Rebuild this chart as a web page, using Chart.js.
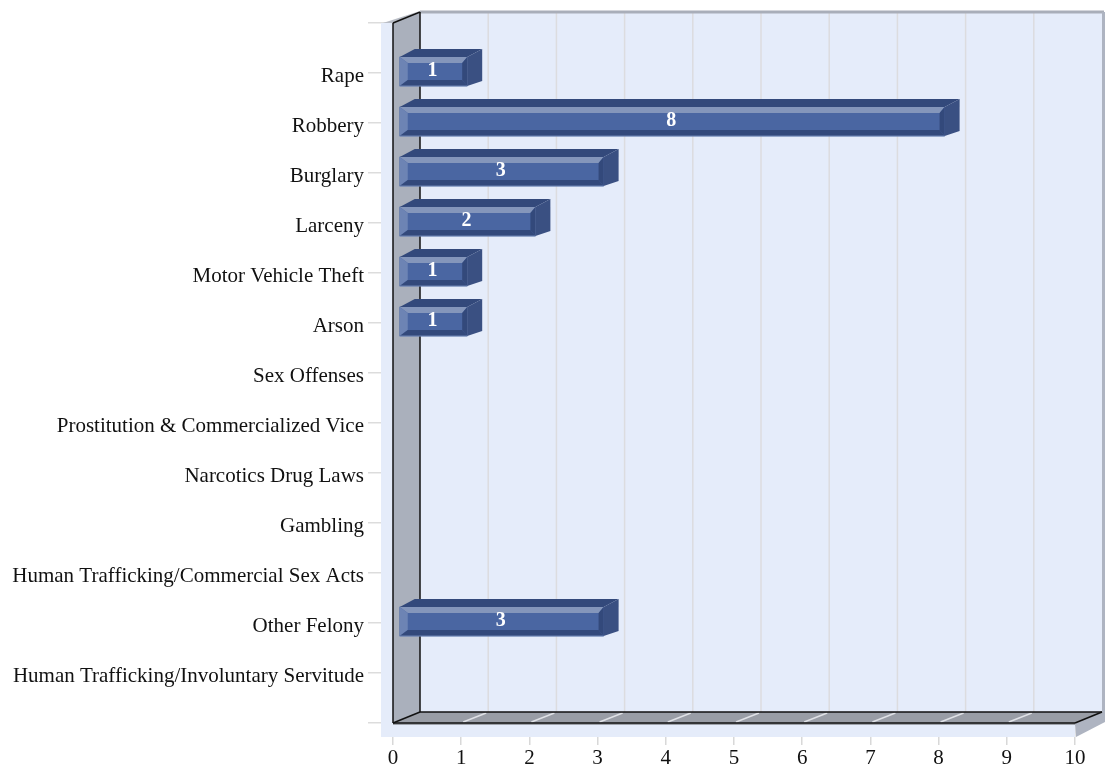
<!DOCTYPE html>
<html>
<head>
<meta charset="utf-8">
<title>Offenses</title>
<script src="https://cdn.jsdelivr.net/npm/chart.js@4"></script>
<style>
  html, body { margin: 0; padding: 0; background: #fff; }
  canvas { display: block; }
</style>
</head>
<body>
<canvas id="chart" width="1106" height="769"></canvas>
<script>
"use strict";
// blank first and last labels keep the half empty rows above and below the list
const CATEGORIES = ["", "Rape", "Robbery", "Burglary", "Larceny", "Motor Vehicle Theft", "Arson",
  "Sex Offenses", "Prostitution & Commercialized Vice", "Narcotics Drug Laws", "Gambling",
  "Human Trafficking/Commercial Sex Acts", "Other Felony",
  "Human Trafficking/Involuntary Servitude", ""];
const COUNTS = [null, 1, 8, 3, 2, 1, 1, 0, 0, 0, 0, 0, 3, 0, null];
const X_MAX = 10;

// depth of the box behind the front plane
const DEPTH_X = 27;
const DEPTH_Y = -11;
// how far the bars sit inside the box and how deep they are
const BAR_SHIFT_X = 6;
const BAR_SHIFT_Y = -1.5;
const BAR_DEPTH_X = 15;
const BAR_DEPTH_TOP = -8;
const BAR_DEPTH_BOTTOM = -5;
// bevel widths on the front face
const BEVEL_LEFT = 8;
const BEVEL_RIGHT = 5;
const BEVEL_TOP = 6;
const BEVEL_BOTTOM = 6;

function poly(ctx, points, fill, stroke, width) {
  ctx.beginPath();
  points.forEach((p, i) => i ? ctx.lineTo(p[0], p[1]) : ctx.moveTo(p[0], p[1]));
  ctx.closePath();
  if (fill) {
    ctx.fillStyle = fill;
    ctx.fill();
  }
  if (stroke) {
    ctx.strokeStyle = stroke;
    ctx.lineWidth = width || 1;
    ctx.stroke();
  }
}

function line(ctx, x1, y1, x2, y2, color, width) {
  ctx.beginPath();
  ctx.moveTo(x1, y1);
  ctx.lineTo(x2, y2);
  ctx.strokeStyle = color;
  ctx.lineWidth = width;
  ctx.stroke();
}

// the box: backing panel, back wall grid, left wall, floor, rims
const boxPlugin = {
  id: "box",
  beforeDatasetsDraw(chart) {
    const ctx = chart.ctx;
    const a = chart.chartArea;
    const xs = chart.scales.x;
    const bx = DEPTH_X, by = DEPTH_Y;
    ctx.save();
    ctx.fillStyle = "#e5ecfa";
    ctx.fillRect(a.left - 12, a.top, a.right - a.left + 12, a.bottom - a.top + 14);
    ctx.fillRect(a.left + bx, a.top + by, a.right - a.left, a.bottom - a.top);

    for (let v = 1; v < X_MAX; v++) {
      const x = xs.getPixelForValue(v) + bx;
      line(ctx, x, a.top + by, x, a.bottom + by, "#dcdcdf", 1.5);
    }

    // rims on top and to the right
    line(ctx, a.left + bx, a.top + by, a.right + bx + 2, a.top + by, "#a9aeb9", 3);
    line(ctx, a.right + bx + 1.5, a.top + by, a.right + bx + 1.5, a.bottom + by, "#aeb4c1", 3);
    poly(ctx, [[a.left - 10, a.top], [a.left, a.top], [a.left + bx, a.top + by - 1]], "#b9bdc6");
    poly(ctx, [[a.right, a.bottom], [a.right + bx, a.bottom + by], [a.right + bx + 3, a.bottom + by],
      [a.right + bx + 3, a.bottom + by + 10], [a.right + 1, a.bottom + 14]], "#aeb4c1");

    // left wall
    poly(ctx, [[a.left, a.top], [a.left + bx, a.top + by], [a.left + bx, a.bottom + by], [a.left, a.bottom]],
      "#aab0bc");
    // floor
    poly(ctx, [[a.left, a.bottom], [a.left + bx, a.bottom + by], [a.right + bx, a.bottom + by], [a.right, a.bottom]],
      "#999da6");
    for (let v = 1; v < X_MAX; v++) {
      const x = xs.getPixelForValue(v);
      line(ctx, x + 2, a.bottom - 1, x + bx - 2, a.bottom + by + 1, "#dfe1e6", 1.5);
    }
    line(ctx, a.left, a.bottom + 1, a.right, a.bottom + 1, "#9fa3ab", 2);

    // black edges
    line(ctx, a.left, a.top, a.left, a.bottom, "#111", 1.5);
    line(ctx, a.left, a.top, a.left + bx, a.top + by, "#111", 1.5);
    line(ctx, a.left + bx, a.top + by, a.left + bx, a.bottom + by, "#111", 1.5);
    line(ctx, a.left, a.bottom, a.left + bx, a.bottom + by, "#111", 1.5);
    line(ctx, a.left + bx, a.bottom + by, a.right + bx, a.bottom + by, "#111", 1.5);
    line(ctx, a.left, a.bottom, a.right, a.bottom, "#111", 1.5);
    line(ctx, a.right, a.bottom, a.right + bx, a.bottom + by, "#111", 1.5);
    ctx.restore();
  }
};

// moves the front faces inside the box and adds sides, bevels and counts
const barPlugin = {
  id: "bars3d",
  beforeDatasetDraw(chart) {
    chart.ctx.save();
    chart.ctx.translate(BAR_SHIFT_X, BAR_SHIFT_Y);
  },
  afterDatasetDraw(chart, args) {
    const ctx = chart.ctx;
    ctx.restore();
    ctx.save();
    args.meta.data.forEach((bar, i) => {
      if (!COUNTS[i]) {
        return;
      }
      const l = bar.base + BAR_SHIFT_X;
      const r = bar.x + BAR_SHIFT_X;
      const t = bar.y + BAR_SHIFT_Y - bar.height / 2;
      const b = bar.y + BAR_SHIFT_Y + bar.height / 2;
      const il = l + BEVEL_LEFT, ir = r - BEVEL_RIGHT;
      const it = t + BEVEL_TOP, ib = b - BEVEL_BOTTOM;

      // outside of the block
      poly(ctx, [[l, t], [l + BAR_DEPTH_X, t + BAR_DEPTH_TOP], [r + BAR_DEPTH_X, t + BAR_DEPTH_TOP], [r, t]], "#33497b");
      poly(ctx, [[r, t], [r + BAR_DEPTH_X, t + BAR_DEPTH_TOP], [r + BAR_DEPTH_X, b + BAR_DEPTH_BOTTOM], [r, b]], "#3a5082");

      // bevels on the front face
      poly(ctx, [[l, t], [r, t], [ir, it], [il, it]], "#8496bb");
      poly(ctx, [[l, t], [il, it], [il, ib], [l, b]], "#6d84b4");
      poly(ctx, [[r, t], [ir, it], [ir, ib], [r, b]], "#33497b");
      poly(ctx, [[l, b], [il, ib], [ir, ib], [r, b]], "#33497b");
      line(ctx, l, b, r, b, "#6d84b4", 1);

      ctx.fillStyle = "#fff";
      ctx.font = "bold 20px 'Liberation Serif'";
      ctx.textAlign = "center";
      ctx.textBaseline = "middle";
      ctx.fillText(COUNTS[i], (l + r) / 2 - 1, (t + b) / 2 - 1);
    });
    ctx.restore();
  }
};

new Chart(document.getElementById("chart"), {
  type: "bar",
  data: {
    labels: CATEGORIES,
    datasets: [{
      data: COUNTS,
      backgroundColor: c => c.raw ? "#4a66a2" : "transparent",
      borderWidth: 0,
      barThickness: 29
    }]
  },
  options: {
    indexAxis: "y",
    responsive: false,
    animation: false,
    layout: { padding: { top: 23, right: 31, left: 0, bottom: 0 } },
    plugins: { legend: { display: false }, tooltip: { enabled: false } },
    scales: {
      x: {
        min: 0,
        max: X_MAX,
        afterFit(scale) { scale.height = 46; },
        border: { display: false },
        grid: { drawOnChartArea: false, tickLength: 22, color: "#d8d8d8", lineWidth: 1.5 },
        ticks: {
          stepSize: 1,
          padding: 1,
          maxRotation: 0,
          color: "#111",
          font: { family: "'Liberation Serif'", size: 21 }
        }
      },
      y: {
        offset: false,
        afterFit(scale) { scale.width = 393; },
        border: { display: false },
        grid: { offset: false, drawOnChartArea: false, tickLength: 25, color: "#dcdcdc", lineWidth: 1.5 },
        ticks: {
          autoSkip: false,
          padding: 4,
          labelOffset: 3,
          color: "#111",
          font: { family: "'Liberation Serif'", size: 21 }
        }
      }
    }
  },
  plugins: [boxPlugin, barPlugin]
});
</script>
</body>
</html>
